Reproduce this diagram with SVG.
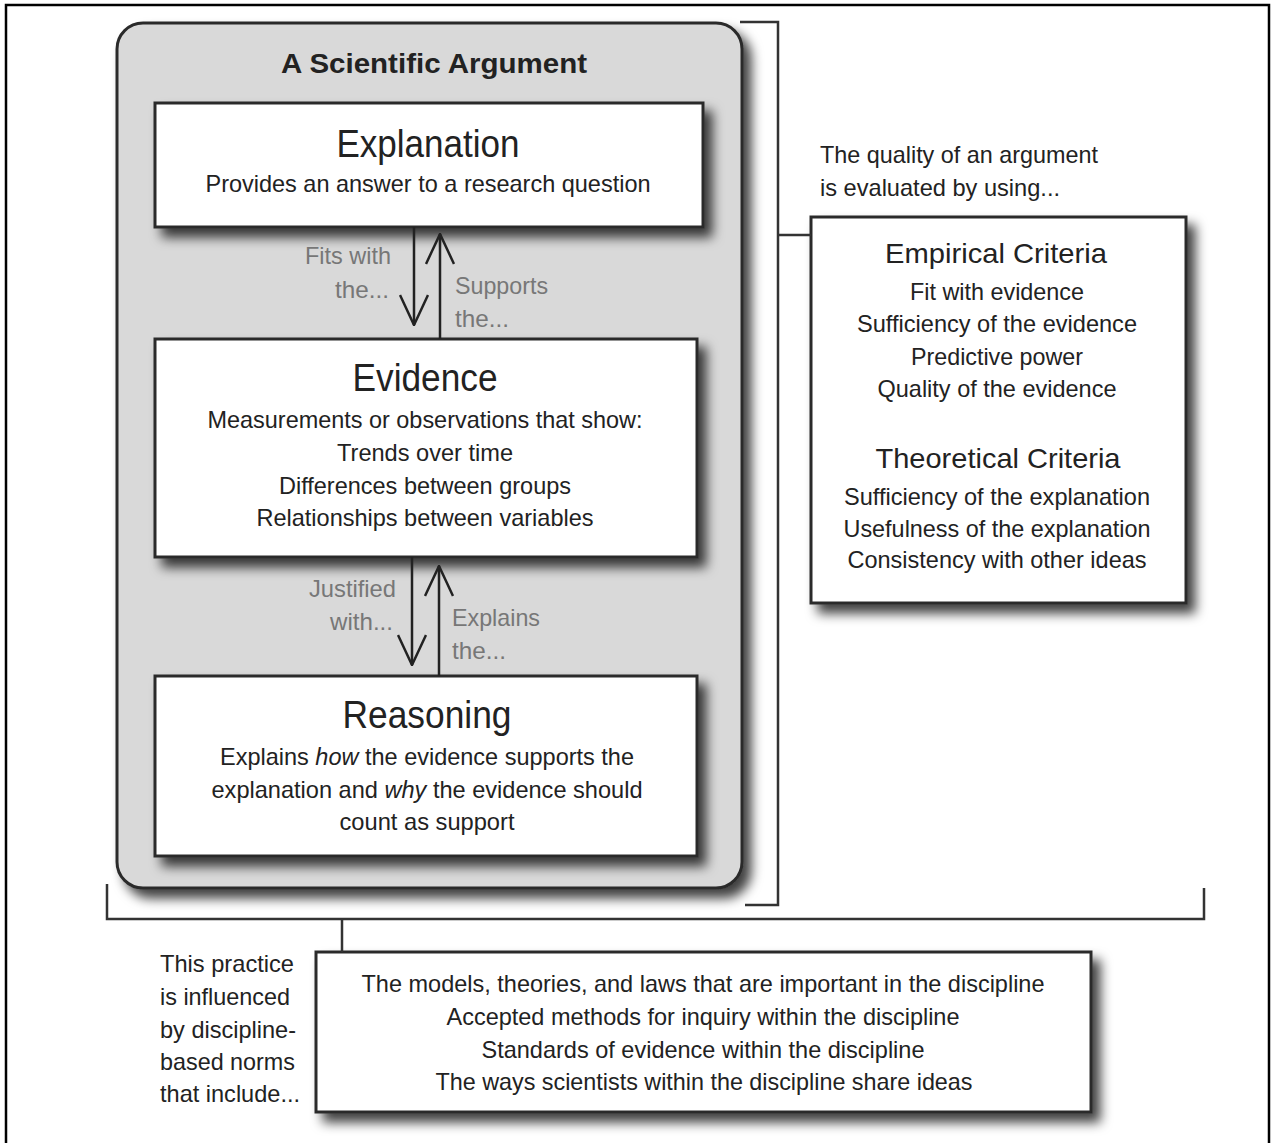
<svg xmlns="http://www.w3.org/2000/svg" width="1274" height="1143" viewBox="0 0 1274 1143">
  <defs>
    <filter id="shadow" x="-10%" y="-10%" width="130%" height="135%">
      <feDropShadow dx="8" dy="9" stdDeviation="6" flood-color="#000" flood-opacity="0.75"/>
    </filter>
    <marker id="chev" viewBox="0 0 32 30" refX="31" refY="15" markerWidth="32" markerHeight="30" markerUnits="userSpaceOnUse" orient="auto">
      <path d="M1,1 L31,15 L1,29" fill="none" stroke="#222" stroke-width="2.5"/>
    </marker>
  </defs>
  <style>
    text { font-family: "Liberation Sans", Arial, sans-serif; fill: #222; text-anchor: middle; }
    .body { font-size: 24px; }
    .head { font-size: 38px; }
    .crit { font-size: 28px; }
    .lbl { font-size: 24px; fill: #777; }
    .box { fill: #fff; stroke: #2a2a2a; stroke-width: 3; }
    .line { fill: none; stroke: #333; stroke-width: 2.5; }
    .arrow { fill: none; stroke: #222; stroke-width: 2.5; marker-end: url(#chev); }
  </style>

  <rect width="1274" height="1143" fill="#fff"/>
  <!-- page frame -->
  <path d="M6,1143 V5 H1269 V1143" fill="none" stroke="#000" stroke-width="2.5"/>

  <!-- container for the argument -->
  <g id="argument">
    <rect x="117" y="23" width="625" height="865" rx="26" ry="26" fill="#d9d9d9" stroke="#2a2a2a" stroke-width="3" filter="url(#shadow)"/>
    <text x="434" y="73" style="font-size:28px;font-weight:bold" textLength="306" lengthAdjust="spacingAndGlyphs">A Scientific Argument</text>
  </g>

  <g id="explanation">
    <rect class="box" x="155" y="103" width="548" height="124" filter="url(#shadow)"/>
    <text class="head" x="428" y="157" textLength="183" lengthAdjust="spacingAndGlyphs">Explanation</text>
    <text class="body" x="428" y="192" textLength="445" lengthAdjust="spacingAndGlyphs">Provides an answer to a research question</text>
  </g>

  <g id="evidence">
    <rect class="box" x="155" y="339" width="542" height="218" filter="url(#shadow)"/>
    <text class="head" x="425" y="391" textLength="145" lengthAdjust="spacingAndGlyphs">Evidence</text>
    <text class="body" x="425" y="428" textLength="435" lengthAdjust="spacingAndGlyphs">Measurements or observations that show:</text>
    <text class="body" x="425" y="461" textLength="176" lengthAdjust="spacingAndGlyphs">Trends over time</text>
    <text class="body" x="425" y="494" textLength="292" lengthAdjust="spacingAndGlyphs">Differences between groups</text>
    <text class="body" x="425" y="526" textLength="337" lengthAdjust="spacingAndGlyphs">Relationships between variables</text>
  </g>

  <g id="reasoning">
    <rect class="box" x="155" y="676" width="542" height="180" filter="url(#shadow)"/>
    <text class="head" x="427" y="728" textLength="169" lengthAdjust="spacingAndGlyphs">Reasoning</text>
    <text class="body" x="427" y="765" textLength="414" lengthAdjust="spacingAndGlyphs">Explains <tspan font-style="italic">how</tspan> the evidence supports the</text>
    <text class="body" x="427" y="798" textLength="431" lengthAdjust="spacingAndGlyphs">explanation and <tspan font-style="italic">why</tspan> the evidence should</text>
    <text class="body" x="427" y="830" textLength="175" lengthAdjust="spacingAndGlyphs">count as support</text>
  </g>

  <g id="quality-note">
    <text class="body" x="820" y="163" style="text-anchor:start" textLength="278" lengthAdjust="spacingAndGlyphs">The quality of an argument</text>
    <text class="body" x="820" y="196" style="text-anchor:start" textLength="240" lengthAdjust="spacingAndGlyphs">is evaluated by using...</text>
  </g>

  <g id="criteria">
    <rect class="box" x="811" y="217" width="375" height="386" filter="url(#shadow)"/>
    <text class="crit" x="996" y="263" textLength="222" lengthAdjust="spacingAndGlyphs">Empirical Criteria</text>
    <text class="body" x="997" y="300" textLength="174" lengthAdjust="spacingAndGlyphs">Fit with evidence</text>
    <text class="body" x="997" y="332" textLength="280" lengthAdjust="spacingAndGlyphs">Sufficiency of the evidence</text>
    <text class="body" x="997" y="365" textLength="172" lengthAdjust="spacingAndGlyphs">Predictive power</text>
    <text class="body" x="997" y="397" textLength="239" lengthAdjust="spacingAndGlyphs">Quality of the evidence</text>
    <text class="crit" x="998" y="468" textLength="245" lengthAdjust="spacingAndGlyphs">Theoretical Criteria</text>
    <text class="body" x="997" y="505" textLength="306" lengthAdjust="spacingAndGlyphs">Sufficiency of the explanation</text>
    <text class="body" x="997" y="537" textLength="307" lengthAdjust="spacingAndGlyphs">Usefulness of the explanation</text>
    <text class="body" x="997" y="568" textLength="299" lengthAdjust="spacingAndGlyphs">Consistency with other ideas</text>
  </g>

  <g id="norms-note">
    <text class="body" x="160" y="972" style="text-anchor:start" textLength="134" lengthAdjust="spacingAndGlyphs">This practice</text>
    <text class="body" x="160" y="1005" style="text-anchor:start" textLength="130" lengthAdjust="spacingAndGlyphs">is influenced</text>
    <text class="body" x="160" y="1038" style="text-anchor:start" textLength="136" lengthAdjust="spacingAndGlyphs">by discipline-</text>
    <text class="body" x="160" y="1070" style="text-anchor:start" textLength="135" lengthAdjust="spacingAndGlyphs">based norms</text>
    <text class="body" x="160" y="1102" style="text-anchor:start" textLength="140" lengthAdjust="spacingAndGlyphs">that include...</text>
  </g>

  <g id="norms">
    <rect class="box" x="316" y="952" width="775" height="160" filter="url(#shadow)"/>
    <text class="body" x="703" y="992" textLength="683" lengthAdjust="spacingAndGlyphs">The models, theories, and laws that are important in the discipline</text>
    <text class="body" x="703" y="1025" textLength="513" lengthAdjust="spacingAndGlyphs">Accepted methods for inquiry within the discipline</text>
    <text class="body" x="703" y="1058" textLength="443" lengthAdjust="spacingAndGlyphs">Standards of evidence within the discipline</text>
    <text class="body" x="704" y="1090" textLength="537" lengthAdjust="spacingAndGlyphs">The ways scientists within the discipline share ideas</text>
  </g>

  <!-- connectors: arrows between boxes and grouping brackets -->
  <g id="connectors">
    <line class="arrow" x1="414" y1="227" x2="414" y2="325"/>
    <line class="arrow" x1="440" y1="339" x2="440" y2="234"/>
    <line class="arrow" x1="412" y1="557" x2="412" y2="665"/>
    <line class="arrow" x1="439" y1="676" x2="439" y2="566"/>

    <path class="line" d="M740,22 H778 V905 H745"/>
    <path class="line" d="M778,235 H811"/>
    <path class="line" d="M107,884 V919 H1204 V888"/>
    <path class="line" d="M342,919 V952"/>

    <text class="lbl" x="391" y="264" style="text-anchor:end" textLength="86" lengthAdjust="spacingAndGlyphs">Fits with</text>
    <text class="lbl" x="389" y="298" style="text-anchor:end" textLength="54" lengthAdjust="spacingAndGlyphs">the...</text>
    <text class="lbl" x="455" y="294" style="text-anchor:start" textLength="93" lengthAdjust="spacingAndGlyphs">Supports</text>
    <text class="lbl" x="455" y="327" style="text-anchor:start" textLength="54" lengthAdjust="spacingAndGlyphs">the...</text>
    <text class="lbl" x="396" y="597" style="text-anchor:end" textLength="87" lengthAdjust="spacingAndGlyphs">Justified</text>
    <text class="lbl" x="393" y="630" style="text-anchor:end" textLength="63" lengthAdjust="spacingAndGlyphs">with...</text>
    <text class="lbl" x="452" y="626" style="text-anchor:start" textLength="88" lengthAdjust="spacingAndGlyphs">Explains</text>
    <text class="lbl" x="452" y="659" style="text-anchor:start" textLength="54" lengthAdjust="spacingAndGlyphs">the...</text>
  </g>
</svg>
